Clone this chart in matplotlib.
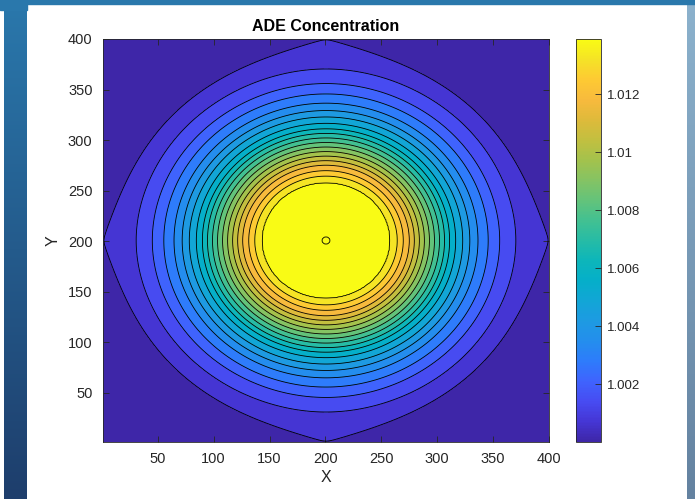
import matplotlib

matplotlib.use("Agg")
import matplotlib.pyplot as plt
import numpy as np
from matplotlib.colors import LinearSegmentedColormap, Normalize
from matplotlib.cm import ScalarMappable

plt.rcParams["font.family"] = ["Liberation Sans", "DejaVu Sans"]

# contour levels of the concentration field (innermost ring first)
ring_levels = [1.01327, 1.01264, 1.01200, 1.01137, 1.01074, 1.01011, 1.00948,
               1.00885, 1.00821, 1.00758, 1.00695, 1.00632, 1.00569, 1.00505,
               1.00442, 1.00379, 1.00316, 1.00253, 1.00190, 1.00126, 1.00063]
# distance of each ring from the source, in grid cells
ring_radius = [3.0, 57.3, 63.7, 69.1, 74.5, 79.0, 83.5, 88.0, 92.5, 97.0, 101.5,
               106.0, 110.5, 115.9, 122.2, 128.5, 135.7, 144.7, 154.6, 168.2, 184.7]
# far-field tail beyond the outermost ring
tail_radius = [200.0, 215.0, 240.0, 280.0, 330.0]
tail_conc = [1.000313, 1.000158, 1.0000511, 1.0000084, 1.0000009]

c_background = 1.0
c_peak = 1.0139
source_xy = (200.5, 200.5)
grid_n = 400
cbar_ticks = [1.002, 1.004, 1.006, 1.008, 1.010, 1.012]
cbar_labels = ["1.002", "1.004", "1.006", "1.008", "1.01", "1.012"]

# parula-like colormap
parula = LinearSegmentedColormap.from_list("parula", [
    (0.00, (0.2422, 0.1504, 0.6603)),
    (0.05, (0.2718, 0.2128, 0.8360)),
    (0.10, (0.2783, 0.2986, 0.9499)),
    (0.15, (0.2470, 0.3910, 0.9950)),
    (0.20, (0.1786, 0.4850, 0.9830)),
    (0.25, (0.1400, 0.5580, 0.9300)),
    (0.30, (0.1160, 0.6050, 0.8860)),
    (0.35, (0.0700, 0.6500, 0.8400)),
    (0.40, (0.0200, 0.6860, 0.7900)),
    (0.45, (0.0500, 0.7130, 0.7300)),
    (0.50, (0.1500, 0.7350, 0.6500)),
    (0.55, (0.2600, 0.7550, 0.5700)),
    (0.60, (0.3900, 0.7650, 0.4800)),
    (0.65, (0.5200, 0.7650, 0.3900)),
    (0.70, (0.6400, 0.7600, 0.3000)),
    (0.75, (0.7600, 0.7500, 0.2500)),
    (0.80, (0.8700, 0.7300, 0.2300)),
    (0.85, (0.9700, 0.7300, 0.2400)),
    (0.90, (0.9950, 0.7900, 0.2000)),
    (0.95, (0.9600, 0.8900, 0.1500)),
    (1.00, (0.9769, 0.9839, 0.0805)),
])

# radial profile of the excess concentration, interpolated in log space
profile_r = np.array([0.0] + ring_radius + tail_radius)
profile_log = np.log(np.array([c_peak] + ring_levels + tail_conc) - c_background)

xs = np.arange(1, grid_n + 1, dtype=float)
X, Y = np.meshgrid(xs, xs)
sx, sy = source_xy
lo_wall, hi_wall = 0.5, grid_n + 0.5

# no-flux walls: add the mirror images of the source across each edge
images = [(sx, sy), (2 * lo_wall - sx, sy), (2 * hi_wall - sx, sy),
          (sx, 2 * lo_wall - sy), (sx, 2 * hi_wall - sy)]
Z = np.full_like(X, c_background)
for ix, iy in images:
    r = np.hypot(X - ix, Y - iy)
    Z += np.exp(np.interp(r, profile_r, profile_log))

levels = np.array([c_background] + ring_levels[::-1] + [c_peak])
band_mid = 0.5 * (levels[:-1] + levels[1:])

W, H = 695, 499
fig = plt.figure(figsize=(W / 100, H / 100), dpi=100)

# window frame around the figure
bg = fig.add_axes([0, 0, 1, 1], zorder=-10)
bg.set_xlim(0, W)
bg.set_ylim(H, 0)
bg.axis("off")
ramp = np.linspace(0, 1, 256)[:, None, None]
top_c = np.array([42, 120, 172]) / 255
bot_c = np.array([30, 62, 108]) / 255
bg.imshow(top_c + (bot_c - top_c) * ramp, extent=(4, 27, H, 0), aspect="auto")
bg.add_patch(plt.Rectangle((0, 0), W, 4, color=top_c))
bg.add_patch(plt.Rectangle((0, 0), 27, 10, color=top_c))
rt = np.array([140, 178, 205]) / 255
rb = np.array([100, 130, 160]) / 255
bg.imshow(rt + (rb - rt) * ramp, extent=(687, W, H, 0), aspect="auto")

ax = fig.add_axes([103 / W, 57 / H, 446 / W, 403 / H])
# the plateau band takes the top colour of the map
ax.contourf(X, Y, Z, levels=levels, cmap=parula,
            norm=Normalize(vmin=band_mid[0], vmax=band_mid[-2]))
ax.contour(X, Y, Z, levels=ring_levels[::-1], colors="k", linewidths=0.6)
ax.set_xlim(1, grid_n)
ax.set_ylim(1, grid_n)
ax.set_xticks([50, 100, 150, 200, 250, 300, 350, 400])
ax.set_yticks([50, 100, 150, 200, 250, 300, 350, 400])
ax.tick_params(direction="in", top=True, right=True, length=4, width=0.6,
               colors="#262626", labelsize=10.5)
ax.tick_params(axis="x", pad=7)
ax.tick_params(axis="y", pad=7.5)
for spine in ax.spines.values():
    spine.set_color("#262626")
    spine.set_linewidth(0.6)
ax.set_xlabel("X", fontsize=11.5, color="#262626", labelpad=3)
ax.set_ylabel("Y", fontsize=11.5, color="#262626", labelpad=5)
ax.set_title("ADE Concentration", fontsize=11.5, fontweight="bold", pad=6)

cax = fig.add_axes([576 / W, 57 / H, 25 / W, 403 / H])
sm = ScalarMappable(norm=Normalize(vmin=c_background, vmax=c_peak), cmap=parula)
cb = fig.colorbar(sm, cax=cax)
cb.set_ticks(cbar_ticks)
cb.set_ticklabels(cbar_labels)
cb.ax.tick_params(direction="in", length=4, width=0.6, colors="#262626",
                  labelsize=9.5, pad=4)
cb.outline.set_edgecolor("#262626")
cb.outline.set_linewidth(0.6)

fig.savefig("out.png", dpi=100)
